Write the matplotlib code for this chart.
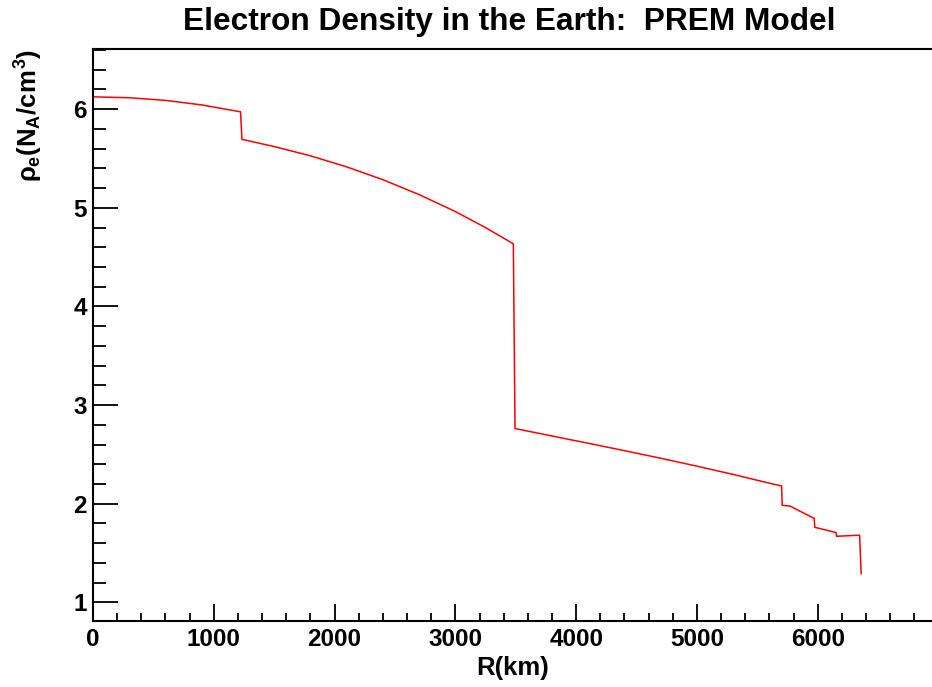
import matplotlib
matplotlib.use('Agg')
import matplotlib.pyplot as plt
from matplotlib.ticker import MultipleLocator, FixedLocator

plt.rcParams['font.family'] = ['Liberation Sans', 'DejaVu Sans']
plt.rcParams['font.weight'] = 'bold'
plt.rcParams['mathtext.fontset'] = 'custom'
plt.rcParams['mathtext.rm'] = 'Liberation Sans:bold'
plt.rcParams['mathtext.it'] = 'Liberation Sans:bold'
plt.rcParams['mathtext.bf'] = 'Liberation Sans:bold'

# Electron density profile (PREM shells)
radius_km = [0, 300, 600, 900, 1221.5,
             1233, 1500, 1800, 2100, 2400, 2700, 3000, 3250, 3480,
             3494, 3800, 4100, 4400, 4700, 5000, 5300, 5600, 5701,
             5706, 5771, 5971,
             5976, 6151,
             6156, 6346.6,
             6360]
e_density = [6.125, 6.116, 6.089, 6.043, 5.973,
             5.694, 5.621, 5.527, 5.415, 5.285, 5.134, 4.962, 4.799, 4.635,
             2.762, 2.687, 2.613, 2.538, 2.461, 2.381, 2.297, 2.208, 2.180,
             1.984, 1.976, 1.851,
             1.761, 1.708,
             1.670, 1.681,
             1.292]

x_ticks = [0, 1000, 2000, 3000, 4000, 5000, 6000]

W, H = 932, 687
fig = plt.figure(figsize=(W / 100, H / 100), dpi=100)
# frame runs on past the right edge of the canvas (x = 7000 is just outside)
ax = fig.add_axes([93 / W, 1 - 621 / H, (938.5 - 93) / W, (621 - 49) / H])

ax.plot(radius_km, e_density, color='#ff0000', lw=1.1)

ax.set_xlim(0, 7000)
ax.set_ylim(0.811, 6.61)

ax.spines['right'].set_visible(False)
for s in ['left', 'bottom', 'top']:
    ax.spines[s].set_linewidth(1.5)

ax.xaxis.set_major_locator(FixedLocator(x_ticks))
ax.xaxis.set_minor_locator(MultipleLocator(200))
ax.yaxis.set_major_locator(MultipleLocator(1))
ax.yaxis.set_minor_locator(MultipleLocator(0.2))

ax.tick_params(axis='x', which='major', direction='in', length=12.2, width=1.3, labelsize=17.5, pad=5)
ax.tick_params(axis='x', which='minor', direction='in', length=5.8, width=1.3)
ax.tick_params(axis='y', which='major', direction='in', length=18, width=1.3, labelsize=17.5, pad=4.3)
ax.tick_params(axis='y', which='minor', direction='in', length=9.4, width=1.3)

fig.text(509 / W, 1 - 30 / H, 'Electron Density in the Earth:  PREM Model',
         fontsize=22.8, fontweight='bold', ha='center', va='baseline')
ax.set_xlabel('R(km)', fontsize=18.5, fontweight='bold')
ax.xaxis.set_label_coords(0.5 * (932 - 93) / (938.5 - 93), -35 / 572)
ax.set_ylabel(r'$\rho_{e}(N_{A}/cm^{3})$', fontsize=18.5, loc='top')
ax.yaxis.set_label_coords(-48 / 845.5, 1.0)

plt.savefig('out.png', dpi=100)
